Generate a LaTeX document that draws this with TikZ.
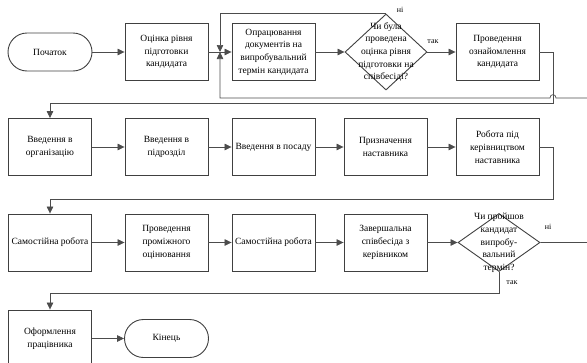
\documentclass[tikz,border=0pt]{standalone}
\usepackage{fontspec}
\setmainfont{Liberation Serif}
\usepackage{tikz}
\usetikzlibrary{shapes,arrows.meta}

\begin{document}
\begin{tikzpicture}
  [x=1pt,y=1pt,font=\fontsize{9.5}{12.7}\selectfont,
   box/.style={rectangle,draw=black!75,line width=0.9pt,minimum width=83pt,minimum height=57pt,align=center,inner sep=1pt},
   term/.style={rectangle,rounded corners=19pt,draw=black!75,line width=0.9pt,minimum width=84pt,minimum height=38pt},
   decision/.style={diamond,draw=black!75,line width=0.9pt,minimum width=82pt,minimum height=76pt,inner sep=0pt},
   qtext/.style={align=center,inner sep=0pt},
   lbl/.style={font=\fontsize{8}{9}\selectfont,inner sep=0pt},
   arr/.style={draw=black!70,line width=0.7pt,-{Triangle[length=7pt,width=6.5pt]}}]
  \useasboundingbox (0,0) rectangle (587,-362);
  \clip (0,0) rectangle (587,-362);
  \node[term] (start) at (50,-52) {Початок};
  \node[box] (n1) at (166.5,-52) {Оцінка рівня\\підготовки\\кандидата};
  \node[box] (n2) at (273.5,-52) {Опрацювання\\документів на\\випробувальний\\термін кандидата};
  \node[decision] (d1) at (386,-52) {};
  \node[qtext] (d1t) at (d1) {Чи була\\проведена\\оцінка рівня\\підготовки на\\співбесіді?};
  \node[box] (n3) at (497.5,-52) {Проведення\\ознайомлення\\кандидата};
  \node[box] (r1) at (50,-147) {Введення в\\організацію};
  \node[box] (r2) at (166.5,-147) {Введення в\\підрозділ};
  \node[box] (r3) at (273.5,-147) {Введення в посаду};
  \node[box] (r4) at (385.5,-147) {Призначення\\наставника};
  \node[box] (r5) at (497.5,-147) {Робота під\\керівництвом\\наставника};
  \node[box] (s1) at (50,-242.5) {Самостійна робота};
  \node[box] (s2) at (166.5,-242.5) {Проведення\\проміжного\\оцінювання};
  \node[box] (s3) at (273.5,-242.5) {Самостійна робота};
  \node[box] (s4) at (385.5,-242.5) {Завершальна\\співбесіда з\\керівником};
  \node[decision,minimum height=58pt] (d2) at (499,-242.5) {};
  \node[qtext] (d2t) at (499,-243) {Чи пройшов\\кандидат\\випробу-\\вальний\\термін?};
  \node[box] (f1) at (50,-338.5) {Оформлення\\працівника};
  \node[term] (fin) at (166.5,-338.5) {Кінець};
  \node[lbl] (no1) at (400,-10) {ні};
  \node[lbl] (yes1) at (433,-42) {так};
  \node[lbl] (no2) at (548,-227) {ні};
  \node[lbl] (yes2) at (512,-283) {так};
  \coordinate (j) at (220,-52);
  \coordinate (ret) at (600,-98);
  \foreach \from/\to in {start/n1,n1/n2,n2/d1,d1/n3,r1/r2,r2/r3,r3/r4,r4/r5,s1/s2,s2/s3,s3/s4,s4/d2,f1/fin}
    \draw[arr] (\from) -- (\to);
  \draw[arr] (d1.north) -| (j);
  \draw[arr] (n3.east) -- ++(14,0) -- ++(0,-51) -| (r1.north);
  \draw[arr] (r5.east) -- ++(14,0) -- ++(0,-52) -| (s1.north);
  \draw[arr] (d2.south) -- ++(0,-21) -| (f1.north);
  \draw[arr] (d2.east) -- (ret |- d2.east) -- (ret) -- (556,-98) .. controls (556,-93.5) and (550,-93.5) .. (550,-98) -- (j |- ret) -- (j);

\end{tikzpicture}
\end{document}
